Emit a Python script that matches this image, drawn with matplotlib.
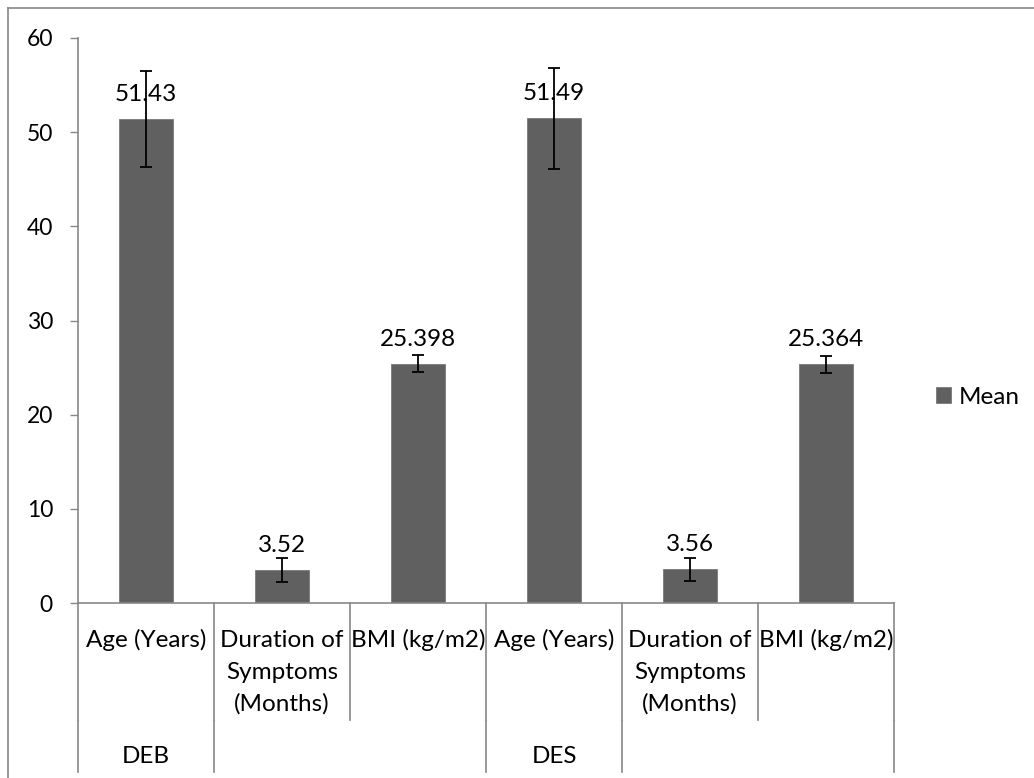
import matplotlib
matplotlib.use("Agg")
import matplotlib.pyplot as plt
from matplotlib.lines import Line2D

categories = ["Age (Years)", "Duration of\nSymptoms\n(Months)", "BMI (kg/m2)",
              "Age (Years)", "Duration of\nSymptoms\n(Months)", "BMI (kg/m2)"]
groups = ["DEB", "", "", "DES", "", ""]
means = [51.43, 3.52, 25.398, 51.49, 3.56, 25.364]
errors = [5.1, 1.27, 0.9, 5.35, 1.2, 0.9]
labels = ["51.43", "3.52", "25.398", "51.49", "3.56", "25.364"]
yticks = [0, 10, 20, 30, 40, 50, 60]
series_name = "Mean"

W, H = 1034, 778
plt.rcParams['font.family'] = ['Lato', 'DejaVu Sans']
fs = 17.5
fs_tick = 16.5
fig = plt.figure(figsize=(W / 100, H / 100), dpi=100)
ax_l, ax_r, ax_t, ax_b = 78, 894, 38, 603
ax = fig.add_axes([ax_l / W, (H - ax_b) / H, (ax_r - ax_l) / W, (ax_b - ax_t) / H])

grey = "#878787"
barc = "#606060"
x = list(range(len(means)))
bars = ax.bar(x, means, width=0.4, color=barc, edgecolor="#7a7a7a", linewidth=0.6,
              label=series_name, zorder=2)
ax.errorbar(x, means, yerr=errors, fmt="none", ecolor="black", elinewidth=1.3,
            capsize=4.5, capthick=1.3, zorder=3)
for xi, m, lab in zip(x, means, labels):
    ax.annotate(lab, (xi, m), xytext=(0, 13), textcoords="offset points",
                ha="center", va="baseline", fontsize=fs, color="black", zorder=4)

ax.set_xlim(-0.5, len(means) - 0.5)
ax.set_ylim(0, 60)
ax.set_yticks(yticks)
ax.set_yticklabels([str(t) for t in yticks], fontsize=fs_tick)
ax.tick_params(axis="y", length=6, width=1, color=grey, pad=12, direction="out")
ax.set_xticks([])
for s in ["top", "right"]:
    ax.spines[s].set_visible(False)
for s in ["left", "bottom"]:
    ax.spines[s].set_color(grey)
    ax.spines[s].set_linewidth(1.2)
ax.spines["bottom"].set_zorder(5)

tr = ax.get_xaxis_transform()

def fr(ypix):
    return (ax_b - ypix) / (ax_b - ax_t)

# level-1 separators
for b in [i - 0.5 for i in range(len(means) + 1)]:
    ax.add_line(Line2D([b, b], [fr(ax_b), fr(720)], transform=tr, color=grey,
                       lw=1.2, clip_on=False))
# level-2 separators
bounds2 = [-0.5]
for i, g in enumerate(groups):
    if i > 0 and (g != "" or groups[i - 1] != ""):
        bounds2.append(i - 0.5)
bounds2.append(len(means) - 0.5)
for b in bounds2:
    ax.add_line(Line2D([b, b], [fr(721), fr(772)], transform=tr, color=grey,
                       lw=1.2, clip_on=False))

# category labels
for xi, c in zip(x, categories):
    for j, line in enumerate(c.split("\n")):
        ax.text(xi, fr(647 + 32 * j), line, transform=tr, ha="center",
                va="baseline", fontsize=fs, clip_on=False)
for xi, g in zip(x, groups):
    if g:
        ax.text(xi, fr(763), g, transform=tr, ha="center", va="baseline",
                fontsize=fs, clip_on=False)

# legend
fig.legend(handles=[bars], labels=[series_name], loc="center left",
           bbox_to_anchor=(936 / W, (H - 397) / H), frameon=False, fontsize=fs,
           handlelength=0.62, handleheight=0.62, handletextpad=0.33,
           borderpad=0, borderaxespad=0)

# outer chart border (top & left visible)
fig.add_artist(Line2D([8 / W, 8 / W], [0, (H - 8) / H], transform=fig.transFigure,
                      color=grey, lw=1.2))
fig.add_artist(Line2D([8 / W, 1], [(H - 8) / H, (H - 8) / H], transform=fig.transFigure,
                      color=grey, lw=1.2))

fig.savefig("out.png", dpi=100)
